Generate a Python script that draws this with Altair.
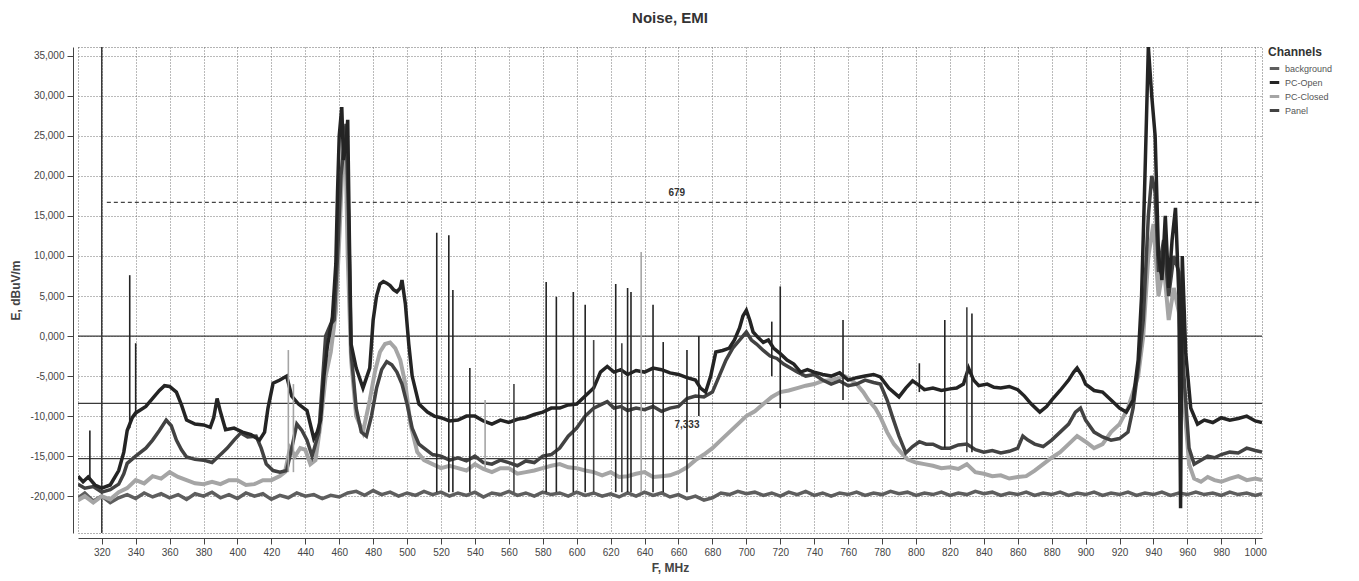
import altair as alt
import pandas as pd

channels = ["background", "PC-Open", "PC-Closed", "Panel"]
channel_colors = ["#5e5e5e", "#242424", "#a5a5a5", "#424242"]

x_ticks = list(range(320, 1001, 20))
y_ticks = [-20, -15, -10, -5, 0, 5, 10, 15, 20, 25, 30, 35]

open_f = [306, 309, 312, 316, 320, 325, 330, 333, 335, 338, 340, 343, 346, 350, 354, 357, 360, 364, 367, 370,
          375, 380, 384, 386, 388, 390, 393, 398, 403, 408, 413, 416, 418, 421, 425, 429, 432, 436, 441, 445,
          447, 449, 451, 453, 456, 458, 459, 460, 461.5, 462.5, 464, 465, 466, 467, 470, 474, 478, 480, 482, 484,
          486, 488, 490, 492, 494, 496, 497, 499, 501, 503, 507, 512, 516, 520, 525, 530, 535, 540, 545, 550,
          555, 560, 565, 570, 575, 580, 585, 590, 595, 600, 605, 610, 614, 618, 622, 626, 630, 635, 640, 645,
          650, 655, 660, 665, 670, 673, 676, 679, 682, 686, 690, 693, 696, 698, 700, 702, 704, 707, 710, 713,
          716, 720, 724, 728, 732, 736, 740, 745, 750, 755, 760, 765, 770, 775, 779, 784, 790, 794, 798, 802,
          805, 810, 815, 820, 824, 828, 831, 834, 837, 842, 846, 850, 855, 860, 864, 868, 873, 877, 880, 885,
          890, 893, 895, 898, 900, 905, 910, 915, 920, 924, 928, 931, 933, 935, 937, 939, 941, 943, 945, 947,
          949, 951, 953, 955, 956, 957, 959, 962, 966, 970, 975, 980, 985, 990, 995, 1000, 1004]
open_v = [-17.5, -18.2, -17.6, -18.6, -19.0, -18.6, -16.8, -14.5, -11.8, -10.2, -9.6, -9.2, -8.8, -7.8, -6.8, -6.2, -6.3, -7.0, -8.6, -10.5,
          -11.0, -11.1, -11.4, -10.2, -7.8, -9.5, -11.7, -11.5, -12.0, -12.3, -13.0, -12.0, -9.0, -5.9, -5.5, -5.0, -7.5, -8.5, -9.3, -12.8,
          -12.0, -10.5, -5.0, -1.3, 2.4, 9.0, 18.0, 25.0, 28.6, 22.0, 24.0, 27.0, 12.0, -1.0, -4.0, -6.5, -4.0, 2.0, 5.0, 6.5,
          6.8, 6.6, 6.3, 5.8, 5.5, 6.0, 7.0, 4.0, -1.0, -5.0, -8.5, -9.5, -10.0, -10.2, -10.6, -10.5, -10.0, -10.0, -10.6, -11.0,
          -10.5, -10.8, -10.4, -10.2, -9.8, -9.5, -9.0, -9.0, -8.6, -8.5, -7.5, -6.5, -4.5, -3.8, -4.5, -4.2, -4.8, -4.3, -4.5, -4.0,
          -4.2, -4.6, -4.8, -5.2, -5.5, -6.5, -7.0, -5.0, -2.0, -1.8, -1.5, -0.5, 1.0, 2.5, 3.2, 2.0, 0.5, -0.2, -0.8, -0.5,
          -1.5, -2.2, -3.0, -3.5, -4.5, -4.2, -4.5, -4.8, -5.0, -4.6, -5.5, -5.2, -5.0, -4.8, -5.1, -6.5, -7.6, -6.5, -5.6, -6.2,
          -6.7, -6.5, -6.8, -6.6, -6.5, -6.0, -4.0, -5.5, -6.2, -6.0, -6.4, -6.5, -6.3, -6.7, -7.5, -8.5, -9.5, -8.8, -8.0, -6.8,
          -5.5, -4.5, -4.0, -5.0, -6.0, -6.8, -7.0, -8.0, -9.0, -9.5, -8.0, -3.0, 5.0, 20.0, 36.1, 30.0, 25.0, 10.0, 7.0, 15.0,
          6.0, 12.0, 16.0, 5.0, -21.5, 10.0, -2.0, -9.0, -11.0, -10.5, -10.8, -10.2, -10.5, -10.3, -10.0, -10.6, -10.8]

panel_f = [306, 310, 315, 320, 325, 330, 333, 335, 340, 346, 350, 354, 358, 361, 364, 367, 370, 375, 380, 385,
           388, 391, 394, 398, 402, 406, 411, 414, 417, 421, 425, 429, 432, 435, 438, 441, 444, 446, 448, 450,
           452, 455, 457, 459, 461, 463, 464, 465.5, 467, 470, 473, 476, 479, 482, 485, 488, 491, 494, 497, 500,
           503, 507, 510, 515, 520, 525, 530, 535, 540, 545, 550, 555, 560, 565, 570, 575, 580, 585, 590, 595,
           600, 605, 610, 614, 618, 622, 626, 630, 635, 640, 645, 650, 655, 660, 665, 670, 675, 680, 684, 688,
           692, 696, 700, 703, 706, 710, 714, 718, 722, 726, 730, 735, 740, 745, 750, 755, 760, 765, 770, 775,
           779, 783, 786, 790, 794, 798, 802, 806, 810, 815, 820, 825, 830, 835, 840, 845, 850, 855, 860, 863,
           866, 870, 875, 880, 885, 890, 894, 897, 900, 905, 910, 915, 920, 925, 928, 931, 934, 937, 939, 941,
           943, 946, 949, 952, 955, 958, 961, 964, 968, 972, 976, 980, 985, 990, 995, 1000, 1004]
panel_v = [-18.5, -19.0, -18.8, -19.5, -19.2, -18.5, -17.2, -15.9, -15.0, -14.0, -13.0, -11.8, -10.5, -11.2, -13.0, -14.2, -15.1, -15.4, -15.5, -15.8,
           -15.2, -14.6, -14.0, -13.0, -12.1, -12.6, -12.5, -14.0, -16.0, -16.8, -17.0, -16.8, -14.0, -11.0, -11.8, -13.0, -15.0, -13.5, -12.0, -6.0,
           0.0, 1.5, 2.0, 10.0, 20.0, 24.0, 26.5, 15.0, -2.0, -9.0, -12.0, -12.5, -10.0, -6.5, -4.2, -3.2, -3.6, -4.5, -6.0, -8.5,
           -11.5, -13.5, -14.0, -14.8, -15.0, -15.5, -15.2, -15.6, -15.0, -15.8, -16.0, -15.5, -15.8, -16.2, -15.6, -15.8, -15.0, -14.8, -14.0, -12.5,
           -11.5, -10.0, -9.0, -8.6, -8.2, -9.0, -8.8, -9.3, -9.0, -9.2, -8.8, -9.4, -9.0, -8.8, -7.8, -7.5, -7.6, -7.0, -5.0, -3.0,
           -1.5, -0.5, 0.5, -0.5, -1.0, -1.8, -2.5, -2.8, -3.5, -4.0, -4.5, -5.0, -4.8, -5.5, -6.0, -5.6, -6.2, -6.0, -5.5, -5.8,
           -6.0, -8.0, -10.0, -12.5, -14.6, -13.8, -13.2, -13.5, -13.5, -14.0, -14.0, -13.6, -13.5, -14.2, -14.5, -14.3, -14.6, -14.4, -14.0, -12.5,
           -13.0, -13.5, -13.8, -13.0, -12.0, -11.0, -9.5, -9.0, -10.5, -12.0, -12.6, -13.0, -12.8, -12.0, -9.0, -4.0, 2.0, 15.0, 20.0, 18.0,
           8.0, 12.0, 5.0, 10.0, 8.0, -5.0, -14.0, -16.0, -15.5, -15.0, -15.2, -14.8, -14.5, -14.6, -14.0, -14.3, -14.5]

closed_f = [306, 310, 315, 320, 325, 330, 335, 340, 345, 350, 355, 360, 365, 370, 375, 380, 385, 390, 395, 400,
            405, 410, 415, 420, 425, 428, 431, 434, 437, 440, 443, 446, 449, 452, 455, 458, 460, 462, 463.5, 465,
            467, 470, 474, 478, 481, 484, 487, 490, 493, 496, 499, 502, 506, 510, 515, 520, 525, 530, 535, 540,
            545, 550, 555, 560, 565, 570, 575, 580, 585, 590, 595, 600, 605, 610, 615, 620, 625, 630, 635, 640,
            645, 650, 655, 660, 665, 670, 675, 680, 685, 690, 695, 700, 705, 710, 715, 720, 725, 730, 735, 740,
            745, 750, 755, 758, 762, 765, 769, 772, 776, 779, 783, 787, 791, 795, 800, 805, 810, 815, 820, 825,
            830, 835, 840, 845, 850, 855, 860, 865, 870, 875, 880, 885, 890, 895, 900, 905, 910, 915, 920, 925,
            928, 931, 934, 937, 940, 943, 946, 949, 952, 955, 958, 961, 964, 968, 972, 976, 980, 985, 990, 995,
            1000, 1004]
closed_v = [-20.5, -20.0, -20.8, -20.0, -20.4, -19.5, -19.0, -18.0, -18.4, -17.5, -17.8, -17.0, -17.6, -18.0, -18.4, -18.5, -18.2, -18.5, -18.0, -18.0,
            -18.6, -18.5, -18.0, -18.0, -17.5, -17.0, -14.0, -15.0, -14.0, -14.2, -16.0, -15.5, -11.0, -5.0, -2.0, 3.0, 12.0, 22.0, 26.0, 10.0,
            -3.0, -10.0, -12.0, -8.0, -4.5, -2.0, -1.0, -0.8, -1.5, -3.0, -6.0, -11.0, -14.5, -15.5, -16.0, -16.5, -16.2, -16.5, -16.8, -16.0,
            -16.6, -17.0, -16.5, -16.5, -17.2, -17.0, -16.8, -16.5, -16.2, -16.0, -16.4, -16.5, -16.8, -17.0, -17.4, -17.0, -17.6, -17.5, -17.2, -17.0,
            -17.6, -17.5, -17.4, -17.0, -16.4, -15.5, -14.8, -14.0, -13.0, -12.0, -11.0, -10.0, -9.4, -8.5, -7.6, -7.0, -6.8, -6.5, -6.2, -6.0,
            -5.6, -5.5, -5.2, -5.0, -5.5, -6.0, -7.0, -8.0, -9.0, -10.1, -12.0, -13.5, -14.5, -15.4, -15.8, -16.0, -16.2, -16.5, -16.4, -16.6,
            -16.0, -17.0, -17.2, -17.5, -17.4, -17.8, -17.6, -17.5, -16.8, -16.0, -15.2, -14.5, -13.5, -12.5, -13.2, -14.0, -13.5, -12.0, -11.0, -9.0,
            -7.0, -5.0, 0.0, 10.0, 14.0, 5.0, 9.0, 2.0, 6.0, 3.0, -8.0, -16.0, -17.8, -18.2, -17.6, -18.0, -18.2, -17.8, -17.5, -18.0,
            -17.8, -18.0]

bg_f = [306, 310, 315, 320, 325, 330, 335, 340, 345, 350, 355, 360, 365, 370, 375, 380, 385, 390, 395, 400,
        405, 410, 415, 420, 425, 430, 435, 440, 445, 450, 455, 460, 465, 470, 475, 480, 485, 490, 495, 500,
        505, 510, 515, 520, 525, 530, 535, 540, 545, 550, 555, 560, 565, 570, 575, 580, 585, 590, 595, 600,
        605, 610, 615, 620, 625, 630, 635, 640, 645, 650, 655, 660, 665, 670, 675, 680, 685, 690, 695, 700,
        705, 710, 715, 720, 725, 730, 735, 740, 745, 750, 755, 760, 765, 770, 775, 780, 785, 790, 795, 800,
        805, 810, 815, 820, 825, 830, 835, 840, 845, 850, 855, 860, 865, 870, 875, 880, 885, 890, 895, 900,
        905, 910, 915, 920, 925, 930, 935, 940, 945, 950, 955, 960, 965, 970, 975, 980, 985, 990, 995, 1000,
        1004]
bg_v = [-20.2, -19.6, -20.6, -20.0, -20.8, -20.2, -19.8, -20.3, -19.6, -20.1, -19.7, -20.2, -19.8, -20.4, -19.7, -20.0, -19.5, -20.2, -19.8, -20.3,
        -19.6, -20.0, -19.7, -20.4, -19.9, -20.2, -19.6, -20.0, -19.8, -20.3, -19.9, -20.1, -19.6, -19.4, -19.9, -19.3, -19.8, -19.5, -20.0, -19.6,
        -19.9, -19.4, -19.8, -19.5, -20.0, -19.6, -19.9, -19.5, -20.1, -19.6, -19.8, -19.4, -19.9, -19.6, -20.0, -19.5, -19.8, -19.6, -20.0, -19.5,
        -19.9, -19.6, -20.0, -19.7, -20.1, -19.6, -20.0, -19.5, -19.9, -19.6, -20.1, -19.8, -20.3, -20.0, -20.5, -20.2, -19.6, -19.8, -19.4, -19.7,
        -19.5, -19.9, -19.6, -20.0, -19.5, -19.8, -19.4, -19.9, -19.6, -20.0, -19.6, -19.8, -19.5, -19.9, -19.6, -19.8, -19.4, -19.7, -19.5, -19.9,
        -19.6, -19.8, -19.5, -19.9, -19.6, -19.8, -19.4, -19.7, -19.5, -19.9, -19.6, -19.8, -19.5, -19.9, -19.6, -19.8, -19.5, -19.9, -19.6, -19.8,
        -19.5, -19.9, -19.6, -19.8, -19.5, -19.9, -19.6, -19.8, -19.5, -19.9, -19.6, -19.8, -19.5, -19.8, -19.6, -19.9, -19.5, -19.8, -19.6, -19.9,
        -19.7]

spike_f = [313, 336.5, 340, 430, 433, 517.5, 524.6, 527, 537, 546, 563, 582, 588, 598, 605, 610, 623, 626.6, 630, 632,
           638, 645, 651, 665, 672, 715, 720, 757, 802, 817, 830, 833]
spike_lo = [-18.0, -11.5, -10.0, -17.0, -17.0, -19.5, -19.5, -19.5, -19.5, -16.5, -19.5, -19.5, -19.5, -19.5, -19.5, -19.5, -19.5, -19.5, -19.5, -19.5,
            -19.5, -19.5, -19.5, -19.5, -10.0, -5.0, -9.0, -8.0, -7.0, -14.0, -14.5, -14.5]
spike_hi = [-11.8, 7.6, -0.9, -1.75, -6.0, 12.9, 12.6, 5.75, -4.0, -8.0, -6.0, 6.75, 4.9, 5.5, 3.9, -0.5, 6.5, -0.9, 6.0, 5.5,
            10.5, 3.9, -0.75, -1.75, 0.0, 1.8, 6.2, 2.0, -3.4, 2.0, 3.6, 2.8]
spike_ch = ["PC-Open", "PC-Open", "PC-Open", "PC-Closed", "PC-Closed", "PC-Open", "PC-Open", "PC-Open", "PC-Open", "PC-Closed",
            "Panel", "PC-Open", "PC-Open", "PC-Open", "PC-Open", "Panel", "PC-Open", "Panel", "PC-Open", "PC-Open",
            "PC-Closed", "PC-Open", "PC-Open", "PC-Open", "PC-Open", "PC-Open", "PC-Open", "PC-Open", "PC-Open", "PC-Open",
            "Panel", "PC-Open"]

marker_h = [0.0, -8.4, -15.3]
marker_v = [320]
dashed_level = 16.7
dashed_from = 323
marker_text = ["679", "7,333"]
marker_text_f = [659, 665]
marker_text_v = [17.9, -11.1]

FONT = "Liberation Sans"

rows = []
for ch, fs, vs in [("background", bg_f, bg_v), ("PC-Open", open_f, open_v),
                   ("PC-Closed", closed_f, closed_v), ("Panel", panel_f, panel_v)]:
    for i, (f, v) in enumerate(zip(fs, vs)):
        rows.append({"f": f, "v": v, "ch": ch, "i": i})
df = pd.DataFrame(rows)
spikes = pd.DataFrame({"f": spike_f, "v": spike_lo, "v2": spike_hi, "ch": spike_ch})
hlines = pd.DataFrame({"v": marker_h})
vlines = pd.DataFrame({"f": marker_v})
dashed = pd.DataFrame({"f": [dashed_from], "f2": [1004], "v": [dashed_level]})
labels = pd.DataFrame({"f": marker_text_f, "v": marker_text_v, "t": marker_text})

xscale = alt.Scale(domain=[306, 1004], nice=False, zero=False)
yscale = alt.Scale(domain=[-24.6, 36.1], nice=False, zero=False)
xaxis = alt.Axis(values=x_ticks, title="F, MHz", format="d", offset=5, tickSize=6,
                 labelPadding=3, titlePadding=5, grid=True)
yaxis = alt.Axis(values=y_ticks, title="E, dBuV/m", offset=5, tickSize=6, labelPadding=3,
                 titlePadding=8, grid=True,
                 labelExpr="(datum.value < 0 ? '-' : '') + replace(format(abs(datum.value), '.3f'), '.', ',')")


def X(field="f"):
    return alt.X(f"{field}:Q", scale=xscale, axis=xaxis, title="F, MHz")


def Y(field="v"):
    return alt.Y(f"{field}:Q", scale=yscale, axis=yaxis, title="E, dBuV/m")


color = alt.Color("ch:N", scale=alt.Scale(domain=channels, range=channel_colors),
                  legend=alt.Legend(title="Channels", orient="right", offset=6,
                                    symbolType="stroke", symbolStrokeWidth=3, symbolSize=90,
                                    labelFontSize=9, labelColor="#555", titleFontSize=12,
                                    titleColor="#333", titleFontWeight="bold", rowPadding=1,
                                    titlePadding=3, labelFont=FONT, titleFont=FONT))

h_layer = alt.Chart(hlines).mark_rule(color="#3a3a3a", strokeWidth=1.3).encode(y=Y())
v_layer = alt.Chart(vlines).mark_rule(color="#3a3a3a", strokeWidth=1.5).encode(x=X())
d_layer = alt.Chart(dashed).mark_rule(color="#444", strokeWidth=1.2, strokeDash=[4, 3]).encode(
    x=X(), x2="f2:Q", y=Y())


def line_layer(ch, w):
    return alt.Chart(df).transform_filter(alt.datum.ch == ch).mark_line(
        strokeWidth=w, clip=True, strokeJoin="miter").encode(x=X(), y=Y(), color=color, order="i:Q")


spike_layer = alt.Chart(spikes).mark_rule(strokeWidth=1.6, clip=True).encode(
    x=X(), y=Y(), y2="v2:Q", color=color)

text_layer = alt.Chart(labels).mark_text(fontSize=10, fontWeight="bold", color="#333", font=FONT).encode(
    x=X(), y=Y(), text="t:N")

chart = alt.layer(
    h_layer, v_layer, d_layer,
    line_layer("background", 3.5),
    line_layer("PC-Closed", 4),
    line_layer("Panel", 3.5),
    line_layer("PC-Open", 3.5),
    spike_layer,
    text_layer,
).properties(
    width=1184, height=486,
    title=alt.TitleParams("Noise, EMI", fontSize=15, fontWeight="bold", color="#333",
                          font=FONT, anchor="middle", offset=20),
    padding={"left": 70, "top": 39, "right": 80, "bottom": 46},
    autosize=alt.AutoSizeParams(type="none"),
).configure_axis(
    labelFont=FONT, titleFont=FONT, labelFontSize=10, titleFontSize=12, labelColor="#444",
    titleColor="#444", titleFontWeight="bold", domainColor="#444", tickColor="#444",
    gridColor="#666", gridDash=[1, 2], gridOpacity=0.9, gridWidth=1
).configure_view(
    stroke="#666", strokeDash=[1, 2]
)

chart.save("out.html", embed_options={"renderer": "svg", "actions": False})
